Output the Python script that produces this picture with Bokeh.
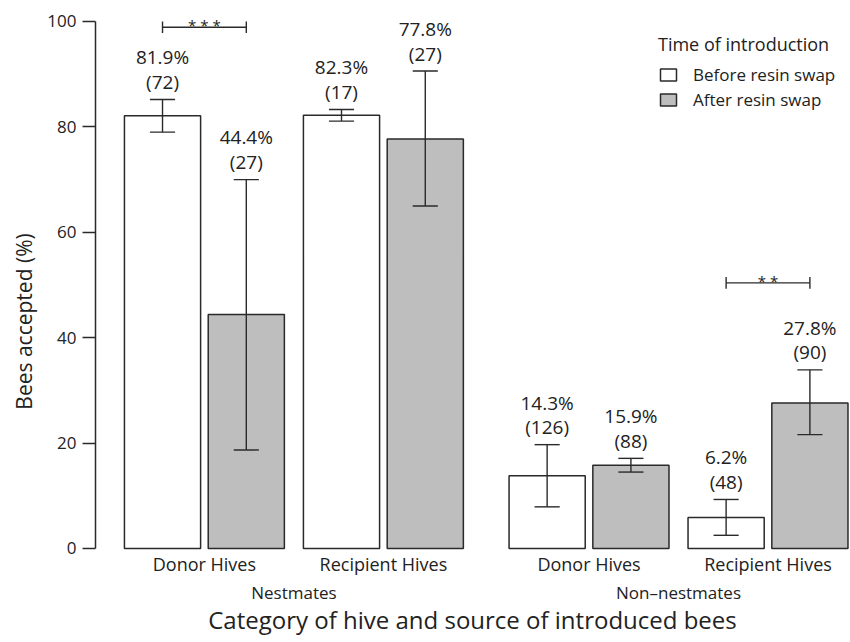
from bokeh.plotting import figure
from bokeh.models import (ColumnDataSource, Range1d, FixedTicker, Legend, LegendItem)
from bokeh.core.properties import value
from bokeh.embed import file_html
from bokeh.resources import INLINE

# ---------------- data ----------------
groups = ["Nestmates", "Non\u2013nestmates"]
sites = ["Donor Hives", "Recipient Hives", "Donor Hives", "Recipient Hives"]
timing = ["Before resin swap", "After resin swap"]
accepted = [82.1, 44.4, 82.2, 77.7, 13.8, 15.8, 5.9, 27.6]
pct_labels = ["81.9%", "44.4%", "82.3%", "77.8%", "14.3%", "15.9%", "6.2%", "27.8%"]
n_bees = [72, 27, 17, 27, 126, 88, 48, 90]
err_low = [79.0, 18.7, 81.1, 65.0, 7.9, 14.5, 2.5, 21.6]
err_high = [85.2, 70.0, 83.3, 90.6, 19.7, 17.1, 9.3, 33.9]
sig_pairs = [(0, 1), (6, 7)]
sig_labels = ["* * *", "* *"]
sig_level = [98.9, 50.4]
y_ticks = [0, 20, 40, 60, 80, 100]
x_title = "Category of hive and source of introduced bees"
y_title = "Bees accepted (%)"

# ---------------- layout (R barplot-like spacing) ----------------
BAR_W, GAP_PAIR, GAP_SITE, GAP_GROUP, LEFT_PAD = 1.0, 0.1, 0.25, 0.6, 0.38
centers = []
x = LEFT_PAD
for g in range(len(groups)):
    if g > 0:
        x += GAP_GROUP
    for s in range(2):
        if s > 0:
            x += GAP_SITE
        for t in range(len(timing)):
            if t > 0:
                x += GAP_PAIR
            centers.append(x + BAR_W / 2)
            x += BAR_W
x_end = x + 0.02
site_centers = [(centers[2 * i] + centers[2 * i + 1]) / 2 for i in range(4)]
group_centers = [sum(centers[4 * g:4 * g + 4]) / 4 for g in range(2)]

# label rows below the zero line (data units)
Y_SITE, Y_GROUP, Y_TITLE = -2.85, -8.35, -13.5

FONT = "Open Sans"
TXT = "#222222"
LINE = "#2a2a2a"
fills = ["#ffffff", "#bebebe"]

p = figure(width=850, height=642, output_backend="svg", toolbar_location=None,
           x_range=Range1d(0, x_end), y_range=Range1d(-17.84, 103.98),
           x_axis_location=None, y_axis_location="left",
           min_border_left=95, min_border_right=1, min_border_top=0,
           min_border_bottom=0)
p.grid.visible = False
p.outline_line_color = None
p.background_fill_color = "white"

# bars per timing
renderers = []
for t in range(len(timing)):
    idx = list(range(t, len(centers), 2))
    src = ColumnDataSource(dict(x=[centers[i] for i in idx],
                                top=[accepted[i] for i in idx]))
    r = p.vbar(x="x", top="top", bottom=0, width=BAR_W, source=src,
               fill_color=fills[t], line_color=LINE, line_width=1.5)
    renderers.append(r)

# error bars
cap = 0.165
eb = ColumnDataSource(dict(x=centers, lo=err_low, hi=err_high,
                           xl=[c - cap for c in centers], xr=[c + cap for c in centers]))
p.segment(x0="x", y0="lo", x1="x", y1="hi", source=eb, line_color=LINE, line_width=1.4)
p.segment(x0="xl", y0="hi", x1="xr", y1="hi", source=eb, line_color=LINE, line_width=1.4)
p.segment(x0="xl", y0="lo", x1="xr", y1="lo", source=eb, line_color=LINE, line_width=1.4)

# value labels
lab = ColumnDataSource(dict(x=centers,
                            y1=[h + 8.0 for h in err_high],
                            y2=[h + 3.3 for h in err_high],
                            t1=pct_labels,
                            t2=["(%d)" % n for n in n_bees]))
for ycol, tcol in (("y1", "t1"), ("y2", "t2")):
    p.text(x="x", y=ycol, text=tcol, source=lab, text_align="center",
           text_baseline="middle", text_font=value(FONT), text_font_size="19px",
           text_color=TXT)

# significance brackets
bx0 = [centers[a] for a, b in sig_pairs]
bx1 = [centers[b] for a, b in sig_pairs]
br = ColumnDataSource(dict(x0=bx0, x1=bx1, y=sig_level,
                           ylo=[v - 1.1 for v in sig_level], yhi=[v + 1.1 for v in sig_level],
                           xm=[(a + b) / 2 for a, b in zip(bx0, bx1)],
                           ys=[v + 0.4 for v in sig_level], lab=sig_labels))
p.segment(x0="x0", y0="y", x1="x1", y1="y", source=br, line_color=LINE, line_width=1.4)
p.segment(x0="x0", y0="ylo", x1="x0", y1="yhi", source=br, line_color=LINE, line_width=1.4)
p.segment(x0="x1", y0="ylo", x1="x1", y1="yhi", source=br, line_color=LINE, line_width=1.4)
p.text(x="xm", y="ys", text="lab", source=br, text_align="center",
       text_baseline="alphabetic", text_font=value(FONT), text_font_size="15px",
       text_color=TXT)

# category labels below the bars
site_src = ColumnDataSource(dict(x=site_centers, y=[Y_SITE] * len(sites), t=sites))
p.text(x="x", y="y", text="t", source=site_src, text_align="center",
       text_baseline="middle", text_font=value(FONT), text_font_size="18px",
       text_color=TXT)
group_src = ColumnDataSource(dict(x=group_centers, y=[Y_GROUP] * len(groups), t=groups))
p.text(x="x", y="y", text="t", source=group_src, text_align="center",
       text_baseline="middle", text_font=value(FONT), text_font_size="17px",
       text_color=TXT)
title_src = ColumnDataSource(dict(x=[x_end / 2], y=[Y_TITLE], t=[x_title]))
p.text(x="x", y="y", text="t", source=title_src, text_align="center",
       text_baseline="middle", text_font=value(FONT), text_font_size="24px",
       text_color=TXT)

# y axis
ya = p.yaxis[0]
ya.ticker = FixedTicker(ticks=y_ticks)
ya.bounds = (0, 100)
ya.axis_label = y_title
ya.axis_label_text_font = FONT
ya.axis_label_text_font_size = "21px"
ya.axis_label_text_font_style = "normal"
ya.axis_label_text_color = TXT
ya.axis_label_standoff = 6
ya.major_label_text_font = FONT
ya.major_label_text_font_size = "17px"
ya.major_label_text_color = TXT
ya.major_label_standoff = 6
ya.major_tick_out = 13
ya.major_tick_in = 0
ya.minor_tick_line_color = None
ya.axis_line_width = 1.5
ya.major_tick_line_width = 1.5
ya.axis_line_color = LINE
ya.major_tick_line_color = LINE

# legend
legend = Legend(items=[LegendItem(label=timing[t], renderers=[renderers[t]]) for t in range(2)],
                location=(563, 531), title="Time of introduction",
                title_text_font=FONT, title_text_font_size="18px",
                title_text_font_style="normal", title_text_color=TXT,
                title_standoff=7,
                label_text_font=FONT, label_text_font_size="17px", label_text_color=TXT,
                glyph_width=20, glyph_height=15, label_height=21, label_standoff=15,
                spacing=2, padding=0, margin=0,
                border_line_color=None, background_fill_alpha=0)
p.add_layout(legend)

open("out.html", "w").write(file_html(p, INLINE))
